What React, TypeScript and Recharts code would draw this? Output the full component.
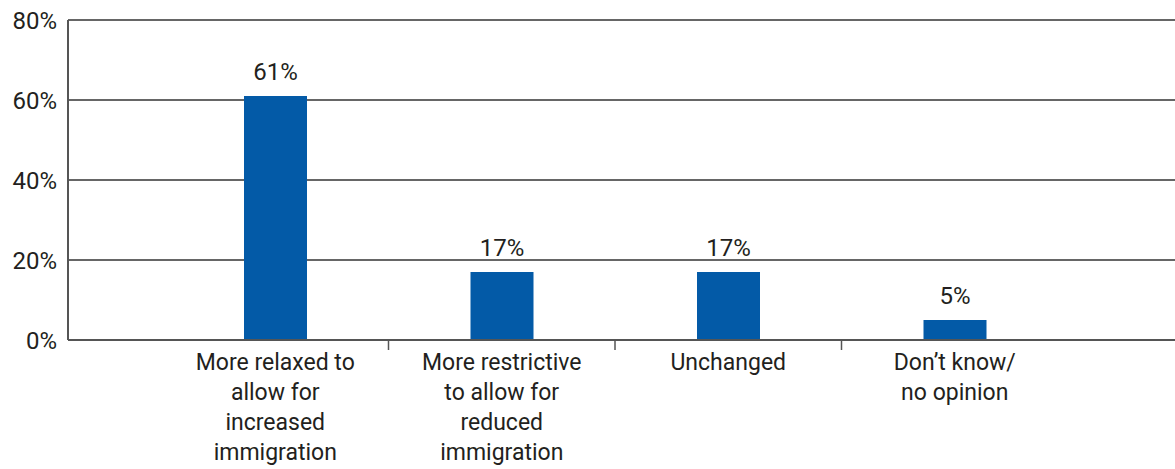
import React from 'react';
import { BarChart, Bar, XAxis, YAxis, CartesianGrid, LabelList } from 'recharts';

// Survey answers: preferred direction of immigration policy
const categories = [
  'More relaxed to\nallow for\nincreased\nimmigration',
  'More restrictive\nto allow for\nreduced\nimmigration',
  'Unchanged',
  'Don\u2019t know/\nno opinion',
];
const shares = [61, 17, 17, 5];
const yTicks = [0, 20, 40, 60, 80];

const data = categories.map((name, i) => ({ name, value: shares[i] }));

const FONT = 'Roboto, "Open Sans", sans-serif';
const TEXT = '#231F20';
const BAR = '#035AA7';
const AXIS = '#555555';
const GRID = '#333333';
const FONT_SIZE = 23;
const NUM_SIZE = 24;
const LINE_HEIGHT = 30;

// Category label split on line breaks, with a divider tick at the left edge of each band after the first
const CategoryTick = (props: any) => {
  const { x, y, payload, index } = props;
  const half = typeof payload.offset === 'number' ? payload.offset : 0;
  const lines = String(payload.value).split('\n');
  return (
    <g>
      {index > 0 && (
        <line x1={x - half} x2={x - half} y1={y} y2={y + 10} stroke={AXIS} strokeWidth={1.5} />
      )}
      <text x={x} y={y + 30} textAnchor="middle" fill={TEXT} fontSize={FONT_SIZE} fontFamily={FONT}>
        {lines.map((line, i) => (
          <tspan key={i} x={x} dy={i === 0 ? 0 : LINE_HEIGHT}>
            {line}
          </tspan>
        ))}
      </text>
    </g>
  );
};

const ValueLabel = (props: any) => {
  const { x, y, width, value } = props;
  return (
    <text
      x={x + width / 2}
      y={y - 16}
      textAnchor="middle"
      fill={TEXT}
      fontSize={NUM_SIZE}
      fontFamily={FONT}
    >
      {`${value}%`}
    </text>
  );
};

export default function App() {
  return (
    <div style={{ position: 'absolute', left: 0, top: 0, background: '#ffffff' }}>
      <BarChart
        width={1175}
        height={469}
        data={data}
        margin={{ top: 20, right: 0, bottom: 0, left: 0 }}
        barCategoryGap={0}
      >
        <CartesianGrid vertical={false} stroke={GRID} strokeWidth={1.5} />
        <XAxis
          dataKey="name"
          interval={0}
          height={129}
          padding={{ left: 94, right: 107 }}
          tickLine={false}
          tickSize={0}
          tickMargin={0}
          axisLine={{ stroke: AXIS, strokeWidth: 2 }}
          tick={<CategoryTick />}
        />
        <YAxis
          width={68}
          domain={[0, 80]}
          ticks={yTicks}
          interval={0}
          tickLine={false}
          tickSize={0}
          tickMargin={11}
          axisLine={{ stroke: AXIS, strokeWidth: 2 }}
          tickFormatter={(v: number) => `${v}%`}
          tick={{ fill: TEXT, fontSize: NUM_SIZE, fontFamily: FONT }}
        />
        <Bar dataKey="value" fill={BAR} barSize={63} isAnimationActive={false}>
          <LabelList dataKey="value" content={<ValueLabel />} />
        </Bar>
      </BarChart>
    </div>
  );
}
